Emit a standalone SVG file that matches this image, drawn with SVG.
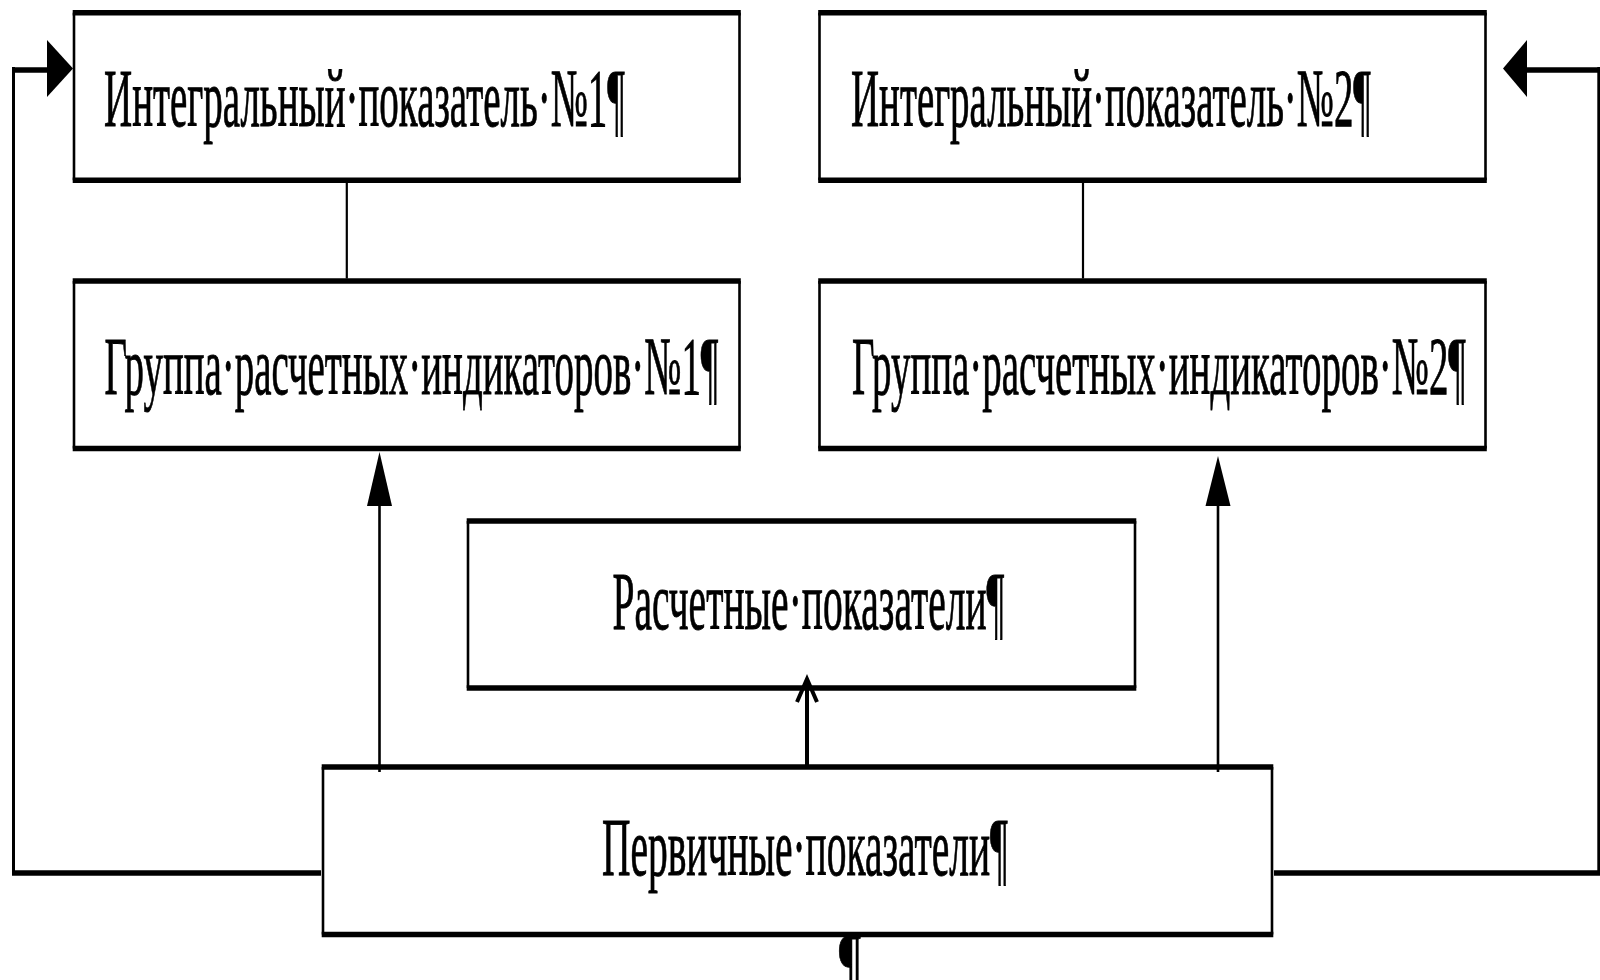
<svg xmlns="http://www.w3.org/2000/svg" width="1600" height="980" viewBox="0 0 1600 980">
<style>
.bg{fill:#fff;stroke:none}
.side{stroke:#000;stroke-width:2.6;fill:none}
.edge{stroke:#000;stroke-width:5.5;fill:none}
.lbl{font-family:"Liberation Serif","Times New Roman",serif;font-size:83px;fill:#000;stroke:#000;stroke-width:0.9}
.ln{stroke:#000;fill:none}
.ah{fill:#000;stroke:none}
</style>
<rect x="0" y="0" width="1600" height="980" fill="#fff"/>

<g id="node-integral-1">
  <rect class="bg" x="74" y="12.7" width="665.5" height="167.5"/>
  <line class="side" x1="74" y1="12.7" x2="74" y2="180.2"/>
  <line class="side" x1="739.5" y1="12.7" x2="739.5" y2="180.2"/>
  <line class="edge" x1="72.7" y1="12.7" x2="740.8" y2="12.7"/>
  <line class="edge" x1="72.7" y1="180.2" x2="740.8" y2="180.2"/>
  <text class="lbl" x="104" y="126" textLength="521" lengthAdjust="spacingAndGlyphs">Интегральный·показатель·№1¶</text>
</g>

<g id="node-integral-2">
  <rect class="bg" x="819.5" y="12.7" width="666" height="167.5"/>
  <line class="side" x1="819.5" y1="12.7" x2="819.5" y2="180.2"/>
  <line class="side" x1="1485.5" y1="12.7" x2="1485.5" y2="180.2"/>
  <line class="edge" x1="818.2" y1="12.7" x2="1486.8" y2="12.7"/>
  <line class="edge" x1="818.2" y1="180.2" x2="1486.8" y2="180.2"/>
  <text class="lbl" x="851" y="126" textLength="520" lengthAdjust="spacingAndGlyphs">Интегральный·показатель·№2¶</text>
</g>

<g id="node-group-1">
  <rect class="bg" x="74" y="281" width="665.5" height="167.5"/>
  <line class="side" x1="74" y1="281" x2="74" y2="448.5"/>
  <line class="side" x1="739.5" y1="281" x2="739.5" y2="448.5"/>
  <line class="edge" x1="72.7" y1="281" x2="740.8" y2="281"/>
  <line class="edge" x1="72.7" y1="448.5" x2="740.8" y2="448.5"/>
  <text class="lbl" x="104.5" y="394" textLength="614" lengthAdjust="spacingAndGlyphs">Группа·расчетных·индикаторов·№1¶</text>
</g>

<g id="node-group-2">
  <rect class="bg" x="819.5" y="281" width="666" height="167.5"/>
  <line class="side" x1="819.5" y1="281" x2="819.5" y2="448.5"/>
  <line class="side" x1="1485.5" y1="281" x2="1485.5" y2="448.5"/>
  <line class="edge" x1="818.2" y1="281" x2="1486.8" y2="281"/>
  <line class="edge" x1="818.2" y1="448.5" x2="1486.8" y2="448.5"/>
  <text class="lbl" x="852" y="394" textLength="614" lengthAdjust="spacingAndGlyphs">Группа·расчетных·индикаторов·№2¶</text>
</g>

<g id="node-calculated">
  <rect class="bg" x="468" y="521" width="667" height="167"/>
  <line class="side" x1="468" y1="521" x2="468" y2="688"/>
  <line class="side" x1="1135" y1="521" x2="1135" y2="688"/>
  <line class="edge" x1="466.7" y1="521" x2="1136.3" y2="521"/>
  <line class="edge" x1="466.7" y1="688" x2="1136.3" y2="688"/>
  <text class="lbl" x="612.5" y="629" textLength="392" lengthAdjust="spacingAndGlyphs">Расчетные·показатели¶</text>
</g>

<g id="node-primary">
  <rect class="bg" x="323" y="767" width="949" height="167.5"/>
  <line class="side" x1="323" y1="767" x2="323" y2="934.5"/>
  <line class="side" x1="1272" y1="767" x2="1272" y2="934.5"/>
  <line class="edge" x1="321.7" y1="767" x2="1273.3" y2="767"/>
  <line class="edge" x1="321.7" y1="934.5" x2="1273.3" y2="934.5"/>
  <text class="lbl" x="602" y="875" textLength="406" lengthAdjust="spacingAndGlyphs">Первичные·показатели¶</text>
</g>

<g id="connectors">
  <!-- box1 - box3 -->
  <line class="ln" x1="346.8" y1="183" x2="346.8" y2="278.5" stroke-width="2.2"/>
  <!-- box2 - box4 -->
  <line class="ln" x1="1083" y1="183" x2="1083" y2="278.5" stroke-width="2.2"/>
  <!-- primary -> group 1 -->
  <line class="ln" x1="379.5" y1="772" x2="379.5" y2="500" stroke-width="2.6"/>
  <polygon class="ah" points="379.5,452 367,506 392,506"/>
  <!-- primary -> group 2 -->
  <line class="ln" x1="1218" y1="772" x2="1218" y2="500" stroke-width="2.6" stroke="#333"/>
  <polygon class="ah" points="1218,456 1205.5,506 1230.5,506"/>
  <!-- primary -> calculated -->
  <line class="ln" x1="807" y1="766" x2="807" y2="681" stroke-width="4" stroke="#111"/>
  <polyline class="ln" points="797,702 807,679 817,702" stroke-width="4" stroke="#111"/>
  <!-- left feedback loop -->
  <line class="ln" x1="321" y1="873" x2="12" y2="873" stroke-width="5.5"/>
  <line class="ln" x1="13.5" y1="875" x2="13.5" y2="67" stroke-width="3"/>
  <line class="ln" x1="12" y1="70" x2="48" y2="70" stroke-width="5.5"/>
  <polygon class="ah" points="47,40 73,68.5 47,97"/>
  <!-- right feedback loop -->
  <line class="ln" x1="1274" y1="873" x2="1600" y2="873" stroke-width="5.5"/>
  <line class="ln" x1="1598.8" y1="875" x2="1598.8" y2="67" stroke-width="3"/>
  <line class="ln" x1="1600" y1="70" x2="1526" y2="70" stroke-width="5.5"/>
  <polygon class="ah" points="1527,40 1503,68.5 1527,97"/>
</g>

<text class="lbl" x="839" y="990" textLength="22" lengthAdjust="spacingAndGlyphs">¶</text>
</svg>
